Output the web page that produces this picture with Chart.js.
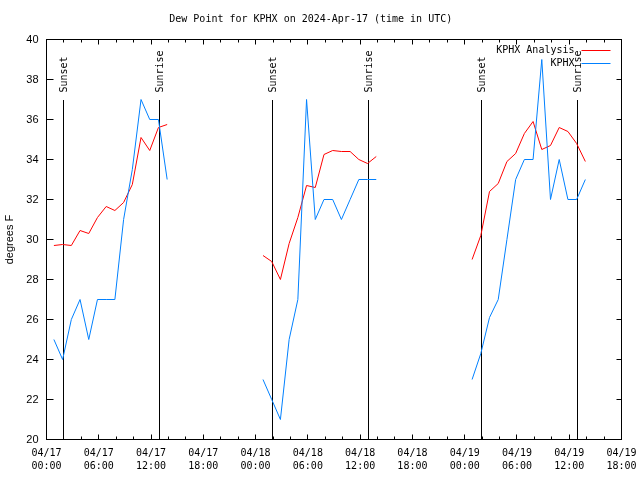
<!DOCTYPE html>
<html>
<head>
<meta charset="utf-8">
<script src="https://cdn.jsdelivr.net/npm/chart.js@4.4.1/dist/chart.umd.min.js"></script>
<style>
    html, body { margin: 0; padding: 0; background: #ffffff; }
</style>
</head>
<body>
<canvas id="dewChart" width="640" height="480"></canvas>
<script>
// chart text
const chartTitle = 'Dew Point for KPHX on 2024-Apr-17 (time in UTC)';
const yAxisTitle = 'degrees F';
const dateLabels = ['04/17', '04/18', '04/19'];
const hourLabels = ['00:00', '06:00', '12:00', '18:00'];
const seriesNames = ['KPHX Analysis', 'KPHX'];

// observation times, hours since 04/17 00:00 UTC
const day1Hours = [0.85, 1.85, 2.85, 3.85, 4.85, 5.85, 6.85, 7.85, 8.85, 9.85, 10.85, 11.85, 12.85, 13.85];
const day2Hours = [24.85, 25.85, 26.85, 27.85, 28.85, 29.85, 30.85, 31.85, 32.85, 33.85, 34.85, 35.85, 36.85, 37.85];
const day3Hours = [48.85, 49.85, 50.85, 51.85, 52.85, 53.85, 54.85, 55.85, 56.85, 57.85, 58.85, 59.85, 60.85, 61.85];

// KPHX Analysis (red)
const anaDay1 = [29.7, 29.75, 29.7, 30.45, 30.3, 31.1, 31.65, 31.45, 31.85, 32.75, 35.1, 34.45, 35.6, 35.75];
const anaDay2 = [29.2, 28.9, 28.0, 29.8, 31.1, 32.7, 32.6, 34.25, 34.45, 34.4, 34.4, 34.0, 33.8, 34.15];
const anaDay3 = [29.0, 30.2, 32.4, 32.8, 33.9, 34.3, 35.3, 35.9, 34.5, 34.7, 35.6, 35.4, 34.8, 33.9];

// KPHX observed (blue)
const obsDay1 = [25, 24, 26, 27, 25, 27, 27, 27, 31, 33.5, 37, 36, 36, 33];
const obsDay2 = [23, 22, 21, 25, 27, 37, 31, 32, 32, 31, 32, 33, 33, 33];
const obsDay3 = [23, 24.3, 26.1, 27, 30, 33, 34, 34, 39, 32, 34, 32, 32, 33];

// sunset / sunrise markers, hours since 04/17 00:00 UTC
const sunsetHours = [1.95, 25.95, 49.95];
const sunriseHours = [12.95, 36.95, 60.95];
const sunLineTop = 37;

const xMin = 0, xMax = 66;
const yMin = 20, yMax = 40;

const monoFont = '"DejaVu Sans Mono", monospace';
const sansFont = '"Liberation Sans", Arial, sans-serif';

function joinDays(hourSets, valueSets) {
    // one line per day, broken by a null point
    const out = [];
    hourSets.forEach((hours, d) => {
        if (d > 0) out.push({ x: hours[0] - 0.5, y: null });
        hours.forEach((h, i) => out.push({ x: h, y: valueSets[d][i] }));
    });
    return out;
}

// sunset / sunrise vertical lines, under the data
const sunLines = {
    id: 'sunLines',
    beforeDatasetsDraw(chart) {
        const ctx = chart.ctx;
        const xs = chart.scales.x;
        const ys = chart.scales.y;
        const top = Math.round(ys.getPixelForValue(sunLineTop));
        const bottom = ys.getPixelForValue(yMin);
        ctx.save();
        ctx.strokeStyle = '#000000';
        ctx.lineWidth = 1;
        ctx.beginPath();
        sunsetHours.concat(sunriseHours).forEach(h => {
            const px = Math.floor(xs.getPixelForValue(h)) + 0.5;
            ctx.moveTo(px, top);
            ctx.lineTo(px, bottom);
        });
        ctx.stroke();
        ctx.restore();
    }
};

// frame, inward tick marks, sun labels and key, gnuplot style
const gnuplotDecor = {
    id: 'gnuplotDecor',
    afterDatasetsDraw(chart) {
        const ctx = chart.ctx;
        const area = chart.chartArea;
        const xs = chart.scales.x;
        const ys = chart.scales.y;
        ctx.save();
        ctx.strokeStyle = '#000000';
        ctx.lineWidth = 1;
        ctx.strokeRect(area.left, area.top, area.right - area.left, area.bottom - area.top);

        ctx.beginPath();
        xs.ticks.forEach(t => {
            const px = Math.floor(xs.getPixelForValue(t.value)) + 0.5;
            const len = t.value % 6 === 0 ? 5 : 3;
            ctx.moveTo(px, area.bottom);
            ctx.lineTo(px, area.bottom - len);
            ctx.moveTo(px, area.top);
            ctx.lineTo(px, area.top + len);
        });
        ys.ticks.forEach(t => {
            const py = Math.floor(ys.getPixelForValue(t.value)) + 0.5;
            ctx.moveTo(area.left, py);
            ctx.lineTo(area.left + 7, py);
            ctx.moveTo(area.right, py);
            ctx.lineTo(area.right - 5, py);
        });
        ctx.stroke();

        // Sunset / Sunrise labels
        ctx.fillStyle = '#000000';
        ctx.font = '10px ' + monoFont;
        ctx.textAlign = 'left';
        ctx.textBaseline = 'middle';
        const labelY = ys.getPixelForValue(sunLineTop) - 7;
        const drawSun = (h, text) => {
            ctx.save();
            ctx.translate(Math.floor(xs.getPixelForValue(h)) + 1.5, labelY);
            ctx.rotate(-Math.PI / 2);
            ctx.fillText(text, 0, 0);
            ctx.restore();
        };
        sunsetHours.forEach(h => drawSun(h, 'Sunset'));
        sunriseHours.forEach(h => drawSun(h, 'Sunrise'));

        // key
        ctx.textAlign = 'right';
        const colors = chart.data.datasets.map(ds => ds.borderColor);
        seriesNames.forEach((name, i) => {
            const y = area.top + 10.5 + i * 12.5;
            ctx.fillStyle = '#000000';
            ctx.fillText(name, area.right - 47, y + 0.5);
            ctx.strokeStyle = colors[i];
            ctx.beginPath();
            ctx.moveTo(area.right - 40, Math.round(y) + 0.5);
            ctx.lineTo(area.right - 11, Math.round(y) + 0.5);
            ctx.stroke();
        });
        ctx.restore();
    }
};

const ctx = document.getElementById('dewChart').getContext('2d');
const dewChart = new Chart(ctx, {
    type: 'line',
    data: {
        datasets: [
            {
                label: seriesNames[0],
                data: joinDays([day1Hours, day2Hours, day3Hours], [anaDay1, anaDay2, anaDay3]),
                borderColor: '#ff0000',
                borderWidth: 1,
                pointRadius: 0,
                tension: 0,
                spanGaps: false,
                order: 2
            },
            {
                label: seriesNames[1],
                data: joinDays([day1Hours, day2Hours, day3Hours], [obsDay1, obsDay2, obsDay3]),
                borderColor: '#0080ff',
                borderWidth: 1,
                pointRadius: 0,
                tension: 0,
                spanGaps: false,
                order: 1
            }
        ]
    },
    options: {
        responsive: false,
        animation: false,
        layout: {
            padding: { left: 0, right: 18.5, top: 0, bottom: 0 }
        },
        scales: {
            x: {
                type: 'linear',
                min: xMin,
                max: xMax,
                afterFit: scale => {
                    scale.height = 40.5;
                    scale.paddingLeft = 0;
                    scale.paddingRight = 0;
                },
                grid: { display: false, drawTicks: false },
                border: { display: false },
                ticks: {
                    stepSize: 2,
                    autoSkip: false,
                    maxRotation: 0,
                    padding: 8,
                    color: '#000000',
                    font: { family: monoFont, size: 10, lineHeight: 1.27 },
                    callback: value => {
                        if (value % 6 !== 0) return '';
                        return [dateLabels[Math.floor(value / 24)], hourLabels[(value % 24) / 6]];
                    }
                }
            },
            y: {
                min: yMin,
                max: yMax,
                afterFit: scale => {
                    scale.width = 46.5;
                    scale.paddingTop = 0;
                    scale.paddingBottom = 0;
                },
                grid: { display: false, drawTicks: false },
                border: { display: false },
                ticks: {
                    stepSize: 2,
                    padding: 8,
                    color: '#000000',
                    font: { family: sansFont, size: 11 }
                },
                title: {
                    display: true,
                    text: yAxisTitle,
                    color: '#000000',
                    padding: { top: 4, bottom: 0 },
                    font: { family: sansFont, size: 11, lineHeight: 1.1 }
                }
            }
        },
        plugins: {
            legend: { display: false },
            tooltip: { enabled: false },
            title: {
                display: true,
                text: chartTitle,
                color: '#000000',
                padding: { top: 13.5, bottom: 14 },
                font: { family: monoFont, size: 10, weight: 'normal', lineHeight: 1.2 }
            }
        }
    },
    plugins: [sunLines, gnuplotDecor]
});
</script>
</body>
</html>
